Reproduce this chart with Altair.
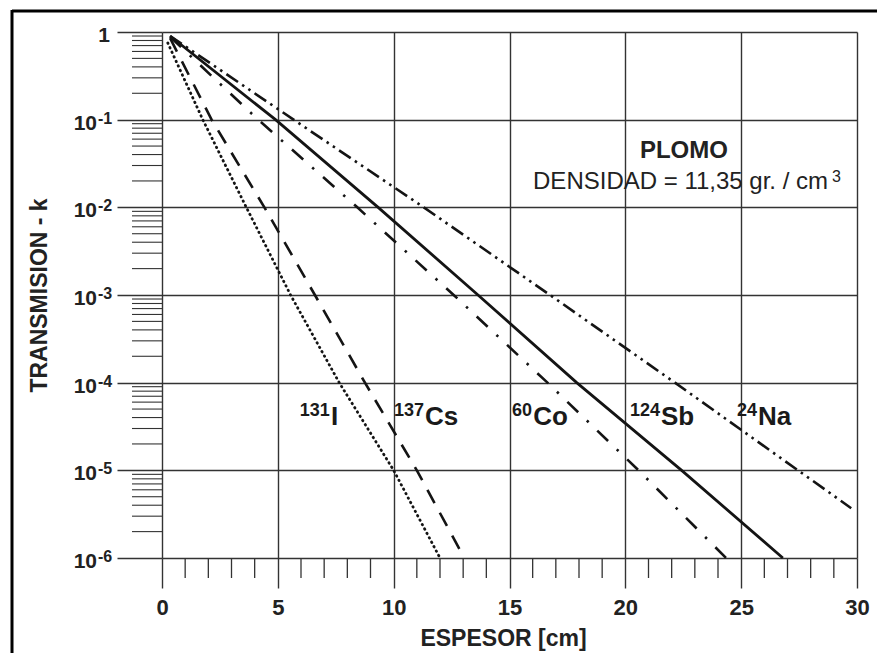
import altair as alt
import pandas as pd

# ---------------- data ----------------
dec = [1, 1e-1, 1e-2, 1e-3, 1e-4, 1e-5, 1e-6]

i131_x = [0.25, 1.76, 3.64, 5.55, 7.65, 10.0, 12.0]
i131_y = [0.75] + dec[1:]
cs137_x = [0.35, 2.14, 4.42, 6.6, 8.76, 11.0, 13.05]
cs137_y = [0.85] + dec[1:]
co60_x = [0.35, 4.15, 8.43, 12.59, 16.64, 20.57, 24.35]
co60_y = [0.88] + dec[1:]
sb124_x = [0.35, 4.9, 9.33, 13.64, 17.9, 22.43, 26.8]
sb124_y = [0.9] + dec[1:]
na24_x = [0.35, 5.68, 11.3, 16.75, 22.14, 29.75]
na24_y = [0.9, 1e-1, 1e-2, 1e-3, 1e-4, 3.7e-6]

iso_mass = ["131", "137", "60", "124", "24"]
iso_sym = ["I", "Cs", "Co", "Sb", "Na"]
iso_label_x = [7.29, 11.35, 16.02, 21.54, 25.73]
iso_label_y = [3.29e-5] * 5

x_major = [0, 5, 10, 15, 20, 25, 30]
x_minor = [i for i in range(31) if i % 5]
y_major = dec
y_minor = [m * 10.0 ** k for k in range(-6, 0) for m in range(2, 10)]
y_exp = ["-1", "-2", "-3", "-4", "-5", "-6"]

note_title = "PLOMO"
note_text = "DENSIDAD = 11,35 gr. / cm"
note_sup = "3"
note_title_pos = (22.53, 10 ** -1.437)
note_text_pos = (28.75, 10 ** -1.791)

# ---------------- styling ----------------
FONT = "Liberation Sans"
INK = "#141414"
GRID = "#333333"
W, H = 695, 526

xs = alt.Scale(domain=[0, 30], nice=False, zero=False)
ys = alt.Scale(type="log", domain=[1e-6, 1], nice=False)

XA = alt.Axis(
    values=x_major, format="d", tickSize=30, tickColor=GRID, tickWidth=1.4,
    grid=True, gridColor=GRID, gridWidth=1.4, gridOpacity=1, domain=False,
    labelFont=FONT, labelFontSize=22, labelFontWeight="bold", labelColor="#222",
    labelPadding=9, labelFlush=False, labelOverlap=False, labelBound=False,
    title="ESPESOR [cm]", titleFont=FONT, titleFontSize=23, titleFontWeight="bold",
    titleColor="#222", titleX=341, titleY=80, titleBaseline="middle", titleAlign="center")
YA = alt.Axis(
    values=y_major, labels=False, tickSize=45, tickColor=GRID, tickWidth=1.4,
    grid=True, gridColor=GRID, gridWidth=1.4, gridOpacity=1, domain=False,
    title="TRANSMISION - k", titleFont=FONT, titleFontSize=23, titleFontWeight="bold",
    titleColor="#222", titleAngle=270, titleX=-123, titleY=263,
    titleBaseline="middle", titleAlign="center")


def X(f):
    return alt.X(f, scale=xs, axis=XA)


def Y(f):
    return alt.Y(f, scale=ys, axis=YA)


y_minor_ticks = alt.Chart(pd.DataFrame({"v": y_minor})).mark_rule(color=GRID, strokeWidth=1.1).encode(
    y=Y("v:Q"), x=alt.value(-30), x2=alt.value(0))
x_minor_ticks = alt.Chart(pd.DataFrame({"v": x_minor})).mark_rule(color=GRID, strokeWidth=1.3).encode(
    x=X("v:Q"), y=alt.value(H), y2=alt.value(H + 20))


def curve(xv, yv, dash, width=2.6, cap="butt"):
    df = pd.DataFrame({"x": xv, "y": yv})
    kw = dict(color=INK, strokeWidth=width, strokeCap=cap)
    if dash:
        kw["strokeDash"] = dash
    return alt.Chart(df).mark_line(**kw).encode(x=X("x:Q"), y=Y("y:Q"), order="x:Q")


lines = [
    curve(i131_x, i131_y, [0.5, 4.5], 2.8, "round"),
    curve(cs137_x, cs137_y, [15, 11]),
    curve(co60_x, co60_y, [15, 12, 2.5, 12]),
    curve(sb124_x, sb124_y, None, 2.8),
    curve(na24_x, na24_y, [14, 5, 2.5, 5, 2.5, 5]),
]

# y tick labels with superscript exponents
ylab = pd.DataFrame({"v": y_major[1:], "b": ["10"] * 6, "e": y_exp})
ylab_base = alt.Chart(ylab).mark_text(
    align="right", baseline="alphabetic", font=FONT, fontSize=21, fontWeight="bold",
    color="#222", dy=10).encode(y=Y("v:Q"), x=alt.value(-65), text="b:N")
ylab_exp = alt.Chart(ylab).mark_text(
    align="left", baseline="alphabetic", font=FONT, fontSize=16, fontWeight="bold",
    color="#222", dy=4).encode(y=Y("v:Q"), x=alt.value(-64), text="e:N")
ylab_one = alt.Chart(pd.DataFrame({"v": [1], "b": ["1"]})).mark_text(
    align="right", baseline="alphabetic", font=FONT, fontSize=21, fontWeight="bold",
    color="#222", dy=10).encode(y=Y("v:Q"), x=alt.value(-52), text="b:N")

# isotope labels
iso = pd.DataFrame({"x": iso_label_x, "y": iso_label_y, "m": iso_mass, "s": iso_sym})
iso_main = alt.Chart(iso).mark_text(
    align="left", baseline="alphabetic", font=FONT, fontSize=26, fontWeight="bold", color="#1a1a1a"
).encode(x=X("x:Q"), y=Y("y:Q"), text="s:N")
iso_sup = alt.Chart(iso).mark_text(
    align="right", baseline="alphabetic", font=FONT, fontSize=18, fontWeight="bold", color="#1a1a1a",
    dx=-1, dy=-9).encode(x=X("x:Q"), y=Y("y:Q"), text="m:N")

# note
n1 = pd.DataFrame({"x": [note_title_pos[0]], "y": [note_title_pos[1]], "t": [note_title]})
n2 = pd.DataFrame({"x": [note_text_pos[0]], "y": [note_text_pos[1]], "t": [note_text], "s": [note_sup]})
note1 = alt.Chart(n1).mark_text(align="center", baseline="alphabetic", font=FONT, fontSize=24,
                                fontWeight="bold", color="#222").encode(
    x=X("x:Q"), y=Y("y:Q"), text="t:N")
note2 = alt.Chart(n2).mark_text(align="right", baseline="alphabetic", font=FONT, fontSize=24,
                                color="#222").encode(
    x=X("x:Q"), y=Y("y:Q"), text="t:N")
note3 = alt.Chart(n2).mark_text(align="left", baseline="alphabetic", font=FONT, fontSize=16,
                                color="#222", dx=4, dy=-7).encode(
    x=X("x:Q"), y=Y("y:Q"), text="s:N")

# outer frame of the figure
one = alt.Data(values=[{}])
frame_top = alt.Chart(one).mark_rule(color="#000", strokeWidth=3).encode(
    x=alt.value(-150), x2=alt.value(730), y=alt.value(-21))
frame_left = alt.Chart(one).mark_rule(color="#000", strokeWidth=3).encode(
    x=alt.value(-150), y=alt.value(-22), y2=alt.value(640))

chart = alt.layer(
    y_minor_ticks, x_minor_ticks, *lines,
    ylab_base, ylab_exp, ylab_one, iso_main, iso_sup, note1, note2, note3,
    frame_top, frame_left,
).properties(
    width=W, height=H,
    autosize=alt.AutoSizeParams(type="none"),
    padding={"left": 162, "top": 32, "right": 20, "bottom": 95},
    background="white",
).configure_view(stroke=None)

chart.save("out.html", embed_options={"renderer": "svg", "actions": False})
